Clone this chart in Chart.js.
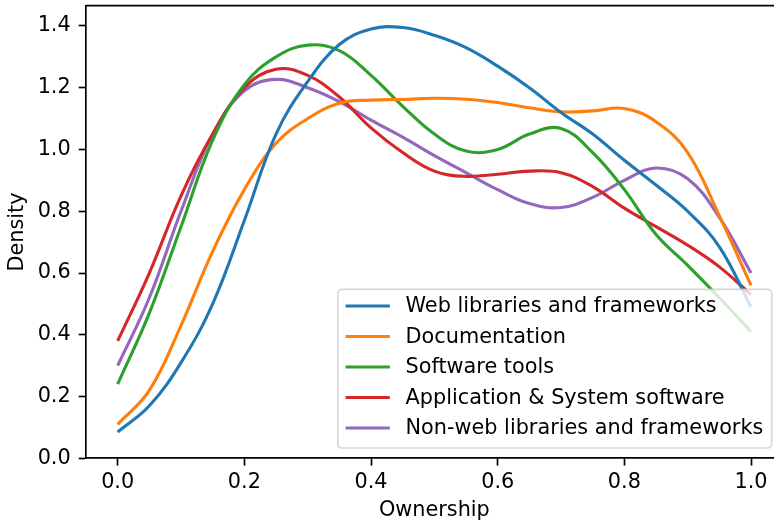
<!DOCTYPE html>
<html>
<head>
<meta charset="utf-8">
<title>Ownership density</title>
<script src="https://cdn.jsdelivr.net/npm/chart.js@4.4.0/dist/chart.umd.min.js"></script>
<style>
  html, body { margin: 0; padding: 0; background: #fff; overflow: hidden; }
  #wrap { width: 800px; height: 525px; }
</style>
</head>
<body>
<div id="wrap"><canvas id="densityChart" width="800" height="525"></canvas></div>
<script>
let ownership = [0, 0.05, 0.1, 0.15, 0.2, 0.25, 0.3, 0.35, 0.4, 0.45, 0.5,
                 0.55, 0.6, 0.65, 0.7, 0.75, 0.8, 0.85, 0.9, 0.95, 1.0];
let webLibs   = [0.085, 0.17, 0.31, 0.50, 0.77, 1.05, 1.22, 1.34, 1.39, 1.395, 1.37,
                 1.33, 1.27, 1.20, 1.12, 1.05, 0.965, 0.885, 0.80, 0.685, 0.49];
let docs      = [0.11, 0.22, 0.43, 0.67, 0.87, 1.02, 1.10, 1.15, 1.16, 1.162, 1.166,
                 1.163, 1.152, 1.135, 1.122, 1.125, 1.133, 1.09, 0.99, 0.785, 0.56];
let swTools   = [0.24, 0.47, 0.75, 1.03, 1.21, 1.30, 1.338, 1.32, 1.24, 1.14, 1.05,
                 0.995, 1.00, 1.05, 1.068, 0.99, 0.87, 0.725, 0.625, 0.52, 0.41];
let appSys    = [0.38, 0.60, 0.85, 1.05, 1.20, 1.26, 1.24, 1.17, 1.07, 0.99, 0.93,
                 0.913, 0.92, 0.93, 0.925, 0.88, 0.81, 0.75, 0.69, 0.62, 0.53];
let nonWeb    = [0.30, 0.52, 0.80, 1.05, 1.19, 1.227, 1.20, 1.155, 1.095, 1.04, 0.98,
                 0.925, 0.87, 0.825, 0.812, 0.845, 0.90, 0.94, 0.905, 0.78, 0.60];

let seriesNames = ['Web libraries and frameworks', 'Documentation', 'Software tools',
                   'Application & System software', 'Non-web libraries and frameworks'];
let seriesColors = ['#1f77b4', '#ff7f0e', '#2ca02c', '#d62728', '#9467bd'];
let xTicks = [0, 0.2, 0.4, 0.6, 0.8, 1.0];
let yTicks = [0, 0.2, 0.4, 0.6, 0.8, 1.0, 1.2, 1.4];

const FONT = "'DejaVu Sans', sans-serif";
const FONT_SIZE = 20.8;
Chart.defaults.font.family = FONT;
Chart.defaults.font.size = FONT_SIZE;
Chart.defaults.color = '#000';

function toPoints(values) {
    return ownership.map((x, i) => ({ x: x, y: values[i] }));
}

const allSeries = [webLibs, docs, swTools, appSys, nonWeb];
const datasets = allSeries.map((vals, i) => ({
    label: seriesNames[i],
    data: toPoints(vals),
    borderColor: seriesColors[i],
    borderWidth: 3.1,
    pointRadius: 0,
    fill: false,
    tension: 0.4
}));

// top/right spines like matplotlib
const framePlugin = {
    id: 'frame',
    afterDraw(chart) {
        const { ctx, chartArea: a } = chart;
        ctx.save();
        ctx.strokeStyle = '#000';
        ctx.lineWidth = 1.67;
        ctx.beginPath();
        ctx.moveTo(a.left, a.top);
        ctx.lineTo(a.right, a.top);
        ctx.lineTo(a.right, a.bottom);
        ctx.stroke();
        ctx.restore();
    }
};

// legend in the lower right corner, drawn over the lines
const boxLegend = {
    id: 'boxLegend',
    afterDatasetsDraw(chart) {
        const { ctx, chartArea: a } = chart;
        const sets = chart.data.datasets;
        ctx.save();
        ctx.font = FONT_SIZE + 'px ' + FONT;
        let maxW = 0;
        sets.forEach(d => { maxW = Math.max(maxW, ctx.measureText(d.label).width); });
        const w = 67.7 + maxW + 8.4;
        const h = 158.7;
        const right = a.right - 11;
        const bottom = a.bottom - 10.3;
        const left = right - w;
        const top = bottom - h;

        ctx.beginPath();
        ctx.roundRect(left, top, w, h, 4);
        ctx.fillStyle = 'rgba(255,255,255,0.8)';
        ctx.fill();
        ctx.lineWidth = 1.67;
        ctx.strokeStyle = 'rgba(204,204,204,0.8)';
        ctx.stroke();

        ctx.textBaseline = 'middle';
        ctx.textAlign = 'left';
        sets.forEach((d, i) => {
            const y = top + 16.7 + i * 30.5;
            ctx.strokeStyle = d.borderColor;
            ctx.lineWidth = 3.1;
            ctx.beginPath();
            ctx.moveTo(left + 7.7, y);
            ctx.lineTo(left + 52, y);
            ctx.stroke();
            ctx.fillStyle = '#000';
            ctx.fillText(d.label, left + 67.7, y + 1);
        });
        ctx.restore();
    }
};

new Chart(document.getElementById('densityChart'), {
    type: 'line',
    data: { datasets: datasets },
    plugins: [framePlugin, boxLegend],
    options: {
        responsive: false,
        animation: false,
        devicePixelRatio: 1,
        layout: { padding: { top: 5.7, right: 17.3, left: 0, bottom: 0 } },
        plugins: { legend: { display: false }, tooltip: { enabled: false } },
        scales: {
            x: {
                type: 'linear',
                min: -0.05,
                max: 1.05,
                afterBuildTicks: s => { s.ticks = xTicks.map(v => ({ value: v })); },
                afterFit: s => { s.height = 66.7; s.paddingLeft = 0; s.paddingRight = 0; },
                ticks: { padding: 4.4, maxRotation: 0, autoSkip: false, callback: v => v.toFixed(1) },
                grid: { drawOnChartArea: false, drawTicks: true, tickLength: 7.3, tickColor: '#000', tickWidth: 1.67 },
                border: { display: true, color: '#000', width: 1.67 },
                title: { display: true, text: 'Ownership', padding: { top: 0, bottom: 1.5 } }
            },
            y: {
                type: 'linear',
                min: 0,
                max: 1.4657,
                afterBuildTicks: s => { s.ticks = yTicks.map(v => ({ value: v })); },
                afterFit: s => { s.width = 86; s.paddingTop = 0; s.paddingBottom = 0; },
                ticks: { padding: 8, autoSkip: false, callback: v => v.toFixed(1) },
                grid: { drawOnChartArea: false, drawTicks: true, tickLength: 7.3, tickColor: '#000', tickWidth: 1.67 },
                border: { display: true, color: '#000', width: 1.67 },
                title: { display: true, text: 'Density', padding: { top: 4.9, bottom: 0 } }
            }
        }
    }
});
</script>
</body>
</html>
